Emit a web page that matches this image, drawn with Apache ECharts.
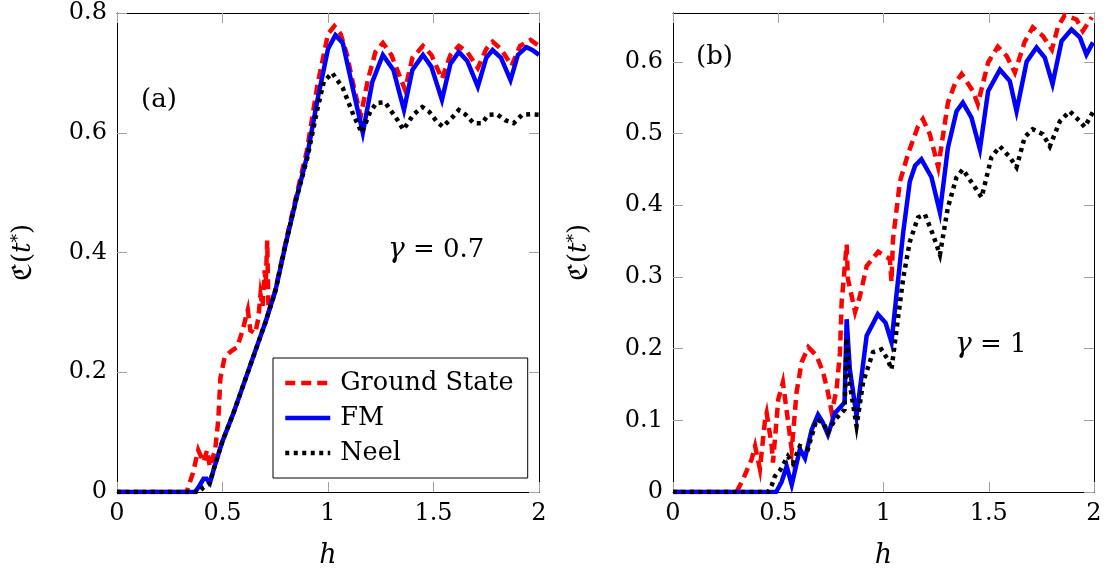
<!DOCTYPE html>
<html>
<head>
<meta charset="utf-8">
<script src="https://cdn.jsdelivr.net/npm/echarts@6/dist/echarts.min.js"></script>
<style>
  html, body { margin: 0; padding: 0; background: #fff; }
  #chart { width: 1117px; height: 574px; }
</style>
</head>
<body>
<div id="chart"></div>
<script>
// ---- panel (a): gamma = 0.7 ----
const hA_gs = [0, 0.33, 0.36, 0.385, 0.41, 0.427, 0.44, 0.465, 0.48, 0.49, 0.51, 0.54, 0.57, 0.595, 0.62, 0.632, 0.655, 0.67, 0.68, 0.69, 0.70, 0.705, 0.712, 0.718, 0.75, 0.80, 0.85, 0.90, 0.95, 1.0, 1.03, 1.06, 1.09, 1.12, 1.155, 1.19, 1.225, 1.26, 1.30, 1.365, 1.40, 1.45, 1.49, 1.54, 1.58, 1.62, 1.66, 1.71, 1.75, 1.78, 1.82, 1.87, 1.91, 1.96, 2.0];
const cA_gs = [0, 0, 0.032, 0.07, 0.05, 0.07, 0.042, 0.07, 0.12, 0.19, 0.225, 0.235, 0.242, 0.27, 0.304, 0.27, 0.265, 0.29, 0.33, 0.31, 0.37, 0.35, 0.42, 0.30, 0.337, 0.418, 0.495, 0.57, 0.68, 0.765, 0.778, 0.765, 0.73, 0.68, 0.628, 0.69, 0.735, 0.75, 0.73, 0.672, 0.725, 0.745, 0.73, 0.69, 0.73, 0.745, 0.735, 0.708, 0.74, 0.752, 0.74, 0.712, 0.745, 0.755, 0.745];

const hA_fm = [0, 0.37, 0.39, 0.41, 0.425, 0.44, 0.46, 0.5, 0.55, 0.6, 0.65, 0.7, 0.75, 0.8, 0.85, 0.9, 0.95, 1.0, 1.035, 1.07, 1.12, 1.165, 1.21, 1.26, 1.31, 1.36, 1.40, 1.45, 1.49, 1.54, 1.58, 1.62, 1.66, 1.71, 1.75, 1.78, 1.82, 1.865, 1.90, 1.94, 1.97, 2.0];
const cA_fm = [0, 0, 0.01, 0.022, 0.022, 0.015, 0.04, 0.085, 0.13, 0.18, 0.23, 0.28, 0.335, 0.415, 0.49, 0.56, 0.655, 0.74, 0.763, 0.75, 0.67, 0.60, 0.685, 0.73, 0.705, 0.638, 0.705, 0.73, 0.71, 0.655, 0.715, 0.735, 0.72, 0.677, 0.725, 0.738, 0.725, 0.688, 0.73, 0.743, 0.738, 0.73];

const hA_neel = [0, 0.39, 0.41, 0.43, 0.44, 0.46, 0.5, 0.55, 0.6, 0.65, 0.7, 0.75, 0.8, 0.85, 0.9, 0.95, 0.98, 1.02, 1.07, 1.12, 1.16, 1.2, 1.23, 1.27, 1.33, 1.357, 1.404, 1.447, 1.48, 1.517, 1.545, 1.59, 1.62, 1.65, 1.69, 1.73, 1.76, 1.8, 1.84, 1.88, 1.92, 1.96, 2.0];
const cA_neel = [0, 0, 0.008, 0.012, 0.015, 0.04, 0.085, 0.13, 0.18, 0.23, 0.28, 0.335, 0.415, 0.49, 0.555, 0.64, 0.685, 0.70, 0.675, 0.63, 0.60, 0.635, 0.65, 0.651, 0.621, 0.605, 0.63, 0.643, 0.635, 0.618, 0.61, 0.626, 0.638, 0.631, 0.616, 0.616, 0.63, 0.631, 0.621, 0.616, 0.63, 0.631, 0.63];

// ---- panel (b): gamma = 1 ----
const hB_gs = [0, 0.302, 0.333, 0.374, 0.39, 0.413, 0.437, 0.445, 0.469, 0.475, 0.5, 0.522, 0.546, 0.564, 0.587, 0.611, 0.643, 0.682, 0.713, 0.736, 0.754, 0.777, 0.793, 0.801, 0.825, 0.831, 0.849, 0.865, 0.888, 0.92, 0.975, 1.007, 1.03, 1.038, 1.045, 1.078, 1.116, 1.164, 1.187, 1.22, 1.26, 1.306, 1.339, 1.371, 1.425, 1.448, 1.497, 1.543, 1.585, 1.624, 1.671, 1.709, 1.757, 1.80, 1.828, 1.861, 1.917, 1.947, 1.99];
const cB_gs = [0, 0, 0.018, 0.046, 0.064, 0.032, 0.10, 0.11, 0.064, 0.041, 0.129, 0.153, 0.10, 0.059, 0.139, 0.181, 0.202, 0.19, 0.167, 0.139, 0.111, 0.143, 0.194, 0.264, 0.345, 0.297, 0.273, 0.251, 0.273, 0.315, 0.335, 0.329, 0.325, 0.293, 0.352, 0.433, 0.471, 0.51, 0.52, 0.499, 0.453, 0.543, 0.569, 0.583, 0.559, 0.541, 0.599, 0.621, 0.608, 0.585, 0.628, 0.648, 0.636, 0.617, 0.648, 0.665, 0.659, 0.643, 0.662];

const hB_fm = [0, 0.49, 0.516, 0.54, 0.564, 0.603, 0.627, 0.659, 0.689, 0.71, 0.736, 0.769, 0.80, 0.815, 0.825, 0.84, 0.872, 0.92, 0.973, 1.01, 1.038, 1.062, 1.094, 1.125, 1.15, 1.18, 1.228, 1.268, 1.306, 1.347, 1.377, 1.418, 1.458, 1.497, 1.553, 1.60, 1.632, 1.68, 1.727, 1.766, 1.803, 1.846, 1.893, 1.933, 1.964, 1.995];
const cB_fm = [0, 0, 0.014, 0.036, 0.01, 0.06, 0.047, 0.087, 0.108, 0.098, 0.08, 0.11, 0.12, 0.125, 0.241, 0.171, 0.106, 0.218, 0.248, 0.236, 0.209, 0.276, 0.363, 0.433, 0.455, 0.464, 0.439, 0.39, 0.48, 0.531, 0.543, 0.522, 0.478, 0.559, 0.589, 0.573, 0.531, 0.60, 0.62, 0.606, 0.569, 0.629, 0.645, 0.634, 0.61, 0.627];

const hB_neel = [0, 0.452, 0.47, 0.484, 0.508, 0.546, 0.57, 0.603, 0.641, 0.682, 0.713, 0.736, 0.769, 0.80, 0.815, 0.825, 0.84, 0.872, 0.903, 0.95, 0.99, 1.02, 1.038, 1.07, 1.094, 1.125, 1.164, 1.197, 1.235, 1.268, 1.306, 1.347, 1.377, 1.418, 1.466, 1.513, 1.553, 1.60, 1.632, 1.671, 1.709, 1.757, 1.79, 1.838, 1.885, 1.933, 1.956, 1.995];
const cB_neel = [0, 0, 0.01, 0.022, 0.03, 0.05, 0.04, 0.064, 0.06, 0.101, 0.097, 0.083, 0.101, 0.11, 0.115, 0.215, 0.15, 0.092, 0.153, 0.195, 0.199, 0.185, 0.171, 0.245, 0.299, 0.349, 0.383, 0.387, 0.359, 0.331, 0.397, 0.439, 0.45, 0.432, 0.411, 0.467, 0.482, 0.467, 0.453, 0.495, 0.506, 0.499, 0.482, 0.517, 0.531, 0.517, 0.509, 0.53];

// axis settings
const xTicks = { min: 0, max: 2, interval: 0.5 };
const yTicksA = { min: 0, max: 0.8, interval: 0.2 };
const yTicksB = { min: 0, max: 0.668, interval: 0.1 };

const SERIF = 'DejaVu Serif';
const tickStyle = { inside: true, length: 10, lineStyle: { color: '#a0a0a0', width: 1 } };
const lineStyleAxis = { show: true, onZero: false, lineStyle: { color: '#000', width: 1 } };

const styles = {
  'Ground State': { color: '#ff0000', type: [10, 6], width: 4.5 },
  'FM': { color: '#0000ff', type: 'solid', width: 4.5 },
  'Neel': { color: '#000000', type: [4, 4.5], width: 4.5 }
};

function pairs(xs, ys) { return xs.map((x, i) => [x, ys[i]]); }

function mkSeries(name, xs, ys, axisBase) {
  const s = styles[name];
  return {
    name: name, type: 'line', data: pairs(xs, ys),
    xAxisIndex: axisBase, yAxisIndex: axisBase,
    showSymbol: false, symbol: 'none', smooth: false,
    color: s.color,
    lineStyle: { color: s.color, type: s.type, width: s.width, cap: 'butt', join: 'miter' },
    emphasis: { disabled: true }
  };
}

function xAxes(gridIndex) {
  return [
    Object.assign({ type: 'value', gridIndex: gridIndex, position: 'bottom',
      name: 'h', nameLocation: 'middle', nameGap: 50,
      nameTextStyle: { fontFamily: SERIF, fontStyle: 'italic', fontSize: 27, color: '#000' },
      axisLine: lineStyleAxis, axisTick: tickStyle, splitLine: { show: false },
      axisLabel: { margin: 10, fontFamily: SERIF, fontSize: 24, color: '#000' } }, xTicks),
    Object.assign({ type: 'value', gridIndex: gridIndex, position: 'top',
      axisLine: lineStyleAxis, axisTick: tickStyle, splitLine: { show: false },
      axisLabel: { show: false } }, xTicks)
  ];
}

const yName = '{f|ℭ}{p|(}{i|t}{s|*}{p|)}';
const yNameRich = {
  f: { fontFamily: SERIF, fontSize: 27, color: '#000' },
  p: { fontFamily: SERIF, fontSize: 26, color: '#000' },
  i: { fontFamily: SERIF, fontStyle: 'italic', fontSize: 26, color: '#000' },
  s: { fontFamily: SERIF, fontSize: 17, color: '#000', verticalAlign: 'top', padding: [0, 0, 10, 0] }
};

function yAxes(gridIndex, ticks, cutTop) {
  return [
    Object.assign({ type: 'value', gridIndex: gridIndex, position: 'left',
      name: yName, nameLocation: 'middle', nameGap: 80,
      nameTextStyle: { rich: yNameRich },
      axisLine: lineStyleAxis, axisTick: tickStyle, splitLine: { show: false },
      axisLabel: { margin: 10, fontFamily: SERIF, fontSize: 24, color: '#000',
        showMaxLabel: !cutTop,
        formatter: v => String(+v.toFixed(2)) } }, ticks),
    Object.assign({ type: 'value', gridIndex: gridIndex, position: 'right',
      axisLine: lineStyleAxis, axisTick: tickStyle, splitLine: { show: false },
      axisLabel: { show: false } }, ticks)
  ];
}

// panel labels and parameter captions (all fragments styled through rich text)
const captionRich = {
  n: { fontFamily: SERIF, fontSize: 26, fill: '#000' },
  g: { fontFamily: SERIF, fontStyle: 'italic', fontSize: 28, fill: '#000' }
};
function caption(left, top, text) {
  return { type: 'text', left: left, top: top,
    style: { text: text, fill: '#000', rich: captionRich } };
}

const chart = echarts.init(document.getElementById('chart'), null, { renderer: 'canvas' });

chart.setOption({
  animation: false,
  backgroundColor: '#fff',
  textStyle: { fontFamily: SERIF },
  grid: [
    { left: 117, top: 13, width: 422, height: 479, containLabel: false },
    { left: 673, top: 13, width: 421, height: 479, containLabel: false }
  ],
  xAxis: xAxes(0).concat(xAxes(1)),
  yAxis: yAxes(0, yTicksA, false).concat(yAxes(1, yTicksB, true)),
  legend: {
    data: ['Ground State', 'FM', 'Neel'],
    orient: 'vertical', left: 273, top: 358,
    itemWidth: 45, itemHeight: 14, itemGap: 5,
    padding: [10, 14, 10, 10],
    borderColor: '#000', borderWidth: 1, borderRadius: 0,
    backgroundColor: '#fff',
    selectedMode: false,
    itemStyle: { opacity: 0, borderWidth: 0 },
    lineStyle: { width: 4.5 },
    textStyle: { fontFamily: SERIF, fontSize: 25.5, color: '#000', lineHeight: 30, padding: [0, 0, 0, 5] }
  },
  graphic: [
    caption(141, 87, '{n|(a)}'),
    caption(388, 236, '{g|γ}{n| = 0.7}'),
    caption(696, 44, '{n|(b)}'),
    caption(955, 331, '{g|γ}{n| = 1}')
  ],
  series: [
    mkSeries('Ground State', hA_gs, cA_gs, 0),
    mkSeries('FM', hA_fm, cA_fm, 0),
    mkSeries('Neel', hA_neel, cA_neel, 0),
    mkSeries('Ground State', hB_gs, cB_gs, 2),
    mkSeries('FM', hB_fm, cB_fm, 2),
    mkSeries('Neel', hB_neel, cB_neel, 2)
  ]
});
</script>
</body>
</html>
